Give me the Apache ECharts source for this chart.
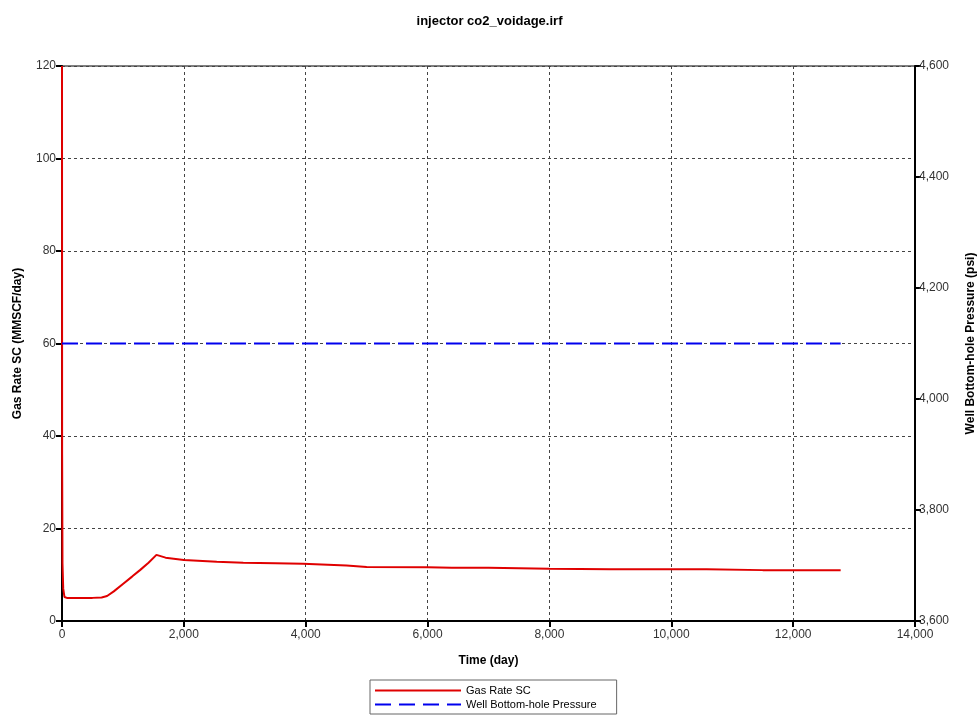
<!DOCTYPE html>
<html>
<head>
<meta charset="utf-8">
<script src="https://cdn.jsdelivr.net/npm/echarts@6/dist/echarts.min.js"></script>
<style>html,body{margin:0;padding:0;background:#fff}#c{width:979px;height:718px}</style>
</head>
<body>
<div id="c"></div>
<script>
// Gas Rate SC (MMSCF/day) vs Time (day)
const gasDays = [0, 2, 8, 20, 40, 80, 300, 500, 650, 740, 850, 1000, 1150, 1280, 1420, 1550, 1700, 2000, 2540, 2975, 3500, 3955, 4670, 5000, 6000, 6400, 7000, 8000, 9000, 10000, 10580, 10600, 11500, 12780];
const gasRate = [120, 36, 12.5, 7, 5.2, 5.0, 5.0, 5.0, 5.1, 5.4, 6.4, 8.0, 9.6, 11.0, 12.6, 14.3, 13.7, 13.2, 12.8, 12.6, 12.5, 12.4, 12.0, 11.7, 11.6, 11.5, 11.5, 11.3, 11.2, 11.2, 11.2, 11.0, 11.0, 11.0];
// Well Bottom-hole Pressure (psi) vs Time (day)
const bhpDays = [0, 12780];
const bhpPsi = [4100, 4100];
// axis ticks
const xTicks = [0, 14000, 2000];
const leftTicks = [0, 120, 20];
const rightTicks = [3600, 4600, 200];

const chart = echarts.init(document.getElementById('c'));
const font = 'Liberation Sans, Arial, sans-serif';
const fmt = v => v.toLocaleString('en-US');
chart.setOption({
  animation: false,
  backgroundColor: '#fff',
  title: {
    text: 'injector co2_voidage.irf', left: 'center', top: 10,
    textStyle: {fontFamily: font, fontSize: 13, fontWeight: 'bold', color: '#000'}
  },
  grid: {left: 62, right: 64, top: 66, bottom: 97, show: true, borderColor: '#000', borderWidth: 1,
         outerBoundsMode: 'none', containLabel: false},
  legend: {
    orient: 'vertical', left: 370, top: 680,
    padding: [5, 20, 4, 4], itemGap: 3, itemWidth: 86, itemHeight: 12,
    borderColor: '#666', borderWidth: 1,
    itemStyle: {opacity: 0},
    textStyle: {fontFamily: font, fontSize: 11, color: '#000'},
    data: ['Gas Rate SC', 'Well Bottom-hole Pressure']
  },
  xAxis: {
    type: 'value', min: xTicks[0], max: xTicks[1], interval: xTicks[2],
    name: 'Time (day)', nameLocation: 'middle', nameGap: 34,
    nameTextStyle: {fontFamily: font, fontSize: 12, fontWeight: 'bold', color: '#000'},
    axisLine: {lineStyle: {color: '#000', width: 2}},
    axisTick: {show: true, length: 6, lineStyle: {color: '#000', width: 2}},
    axisLabel: {fontFamily: font, fontSize: 12, color: '#333', margin: 8, formatter: fmt},
    splitLine: {show: true, lineStyle: {color: '#444', type: [3, 3], width: 1}}
  },
  yAxis: [{
    type: 'value', min: leftTicks[0], max: leftTicks[1], interval: leftTicks[2],
    name: 'Gas Rate SC (MMSCF/day)', nameLocation: 'middle', nameGap: 38, nameRotate: 90,
    nameTextStyle: {fontFamily: font, fontSize: 12, fontWeight: 'bold', color: '#000'},
    axisLine: {show: true, lineStyle: {color: '#000', width: 2}},
    axisTick: {show: true, length: 6, lineStyle: {color: '#000', width: 2}},
    axisLabel: {fontFamily: font, fontSize: 12, color: '#333', margin: 6},
    splitLine: {show: true, lineStyle: {color: '#444', type: [3, 3], width: 1}}
  }, {
    type: 'value', position: 'right', min: rightTicks[0], max: rightTicks[1], interval: rightTicks[2],
    name: 'Well Bottom-hole Pressure (psi)', nameLocation: 'middle', nameGap: 50, nameRotate: 90,
    nameTextStyle: {fontFamily: font, fontSize: 12, fontWeight: 'bold', color: '#000'},
    axisLine: {show: true, lineStyle: {color: '#000', width: 2}},
    axisTick: {show: true, length: 6, lineStyle: {color: '#000', width: 2}},
    axisLabel: {fontFamily: font, fontSize: 12, color: '#333', margin: 4, formatter: fmt},
    splitLine: {show: false}
  }],
  series: [{
    name: 'Gas Rate SC', type: 'line', yAxisIndex: 0, symbol: 'none',
    color: '#e00000',
    lineStyle: {color: '#e00000', width: 2},
    data: gasDays.map((d, i) => [d, gasRate[i]])
  }, {
    name: 'Well Bottom-hole Pressure', type: 'line', yAxisIndex: 1, symbol: 'none',
    color: '#0000ee',
    lineStyle: {color: '#0000ee', width: 2, type: [16, 8]},
    data: bhpDays.map((d, i) => [d, bhpPsi[i]])
  }]
});
</script>
</body>
</html>
